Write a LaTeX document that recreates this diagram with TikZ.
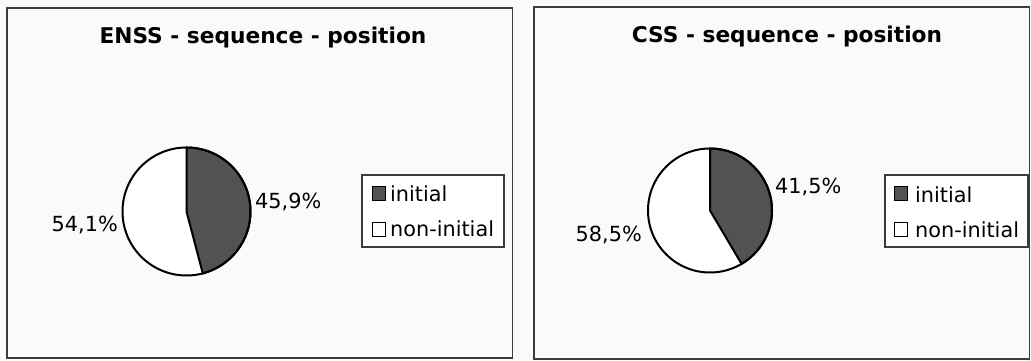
\documentclass[tikz,border=0pt]{standalone}
\usepackage{fontspec}
\setmainfont{DejaVu Sans}
\definecolor{slicegray}{RGB}{82,82,82}
\definecolor{framegray}{RGB}{60,60,60}
\definecolor{paper}{RGB}{250,250,250}
\begin{document}
\begin{tikzpicture}[x=1pt,y=1pt,
  panel/.style={draw=framegray,line width=1.5pt},
  titletext/.style={inner sep=0pt,anchor=base,font=\fontsize{21.7}{25}\selectfont\bfseries},
  lbl/.style={inner sep=0pt,font=\fontsize{20.8}{24}\selectfont},
  legbox/.style={draw=framegray,line width=1.3pt,fill=white},
  keybox/.style={draw=black,line width=1.4pt,minimum width=13pt,minimum height=14pt,inner sep=0pt},
  piecut/.style={draw=black,line width=2pt}]
\fill[paper] (0,0) rectangle (1031,361);
\useasboundingbox (0,0) rectangle (1031,361);
% ---------- left panel
\draw[panel] (7,3) rectangle (512.3,353);
\node[titletext] (t1) at (263,317) {ENSS - sequence - position};
\coordinate (c1) at (186.5,149.5);
\fill[white] (c1) circle[radius=64];
\filldraw[piecut,fill=slicegray] (c1) -- ++(90:64) arc[start angle=90,end angle=-75.24,radius=64] -- cycle;
\draw[piecut] (c1) circle[radius=64];
\node[lbl,anchor=base west] (p1a) at (255,152) {45,9\%};
\node[lbl,anchor=base east] (p1b) at (118,129) {54,1\%};
\draw[legbox] (362,114) rectangle (504,186);
\node[keybox,fill=slicegray,anchor=south west] (k1a) at (372,159.5) {};
\node[lbl,anchor=base west] (l1a) at (390,159) {initial};
\node[keybox,fill=white,anchor=south west] (k1b) at (372,124) {};
\node[lbl,anchor=base west] (l1b) at (390,124) {non-initial};
% ---------- right panel
\draw[panel] (534,2) rectangle (1029.5,354);
\node[titletext] (t2) at (787,318) {CSS - sequence - position};
\coordinate (c2) at (710,150.5);
\fill[white] (c2) circle[radius=62];
\filldraw[piecut,fill=slicegray] (c2) -- ++(90:62) arc[start angle=90,end angle=-59.4,radius=62] -- cycle;
\draw[piecut] (c2) circle[radius=62];
\node[lbl,anchor=base west] (p2a) at (775,167) {41,5\%};
\node[lbl,anchor=base east] (p2b) at (642,119) {58,5\%};
\draw[legbox] (885,114) rectangle (1028,186);
\node[keybox,fill=slicegray,anchor=south west] (k2a) at (894,159.5) {};
\node[lbl,anchor=base west] (l2a) at (915,158) {initial};
\node[keybox,fill=white,anchor=south west] (k2b) at (894,123.5) {};
\node[lbl,anchor=base west] (l2b) at (915,123) {non-initial};
\end{tikzpicture}
\end{document}
